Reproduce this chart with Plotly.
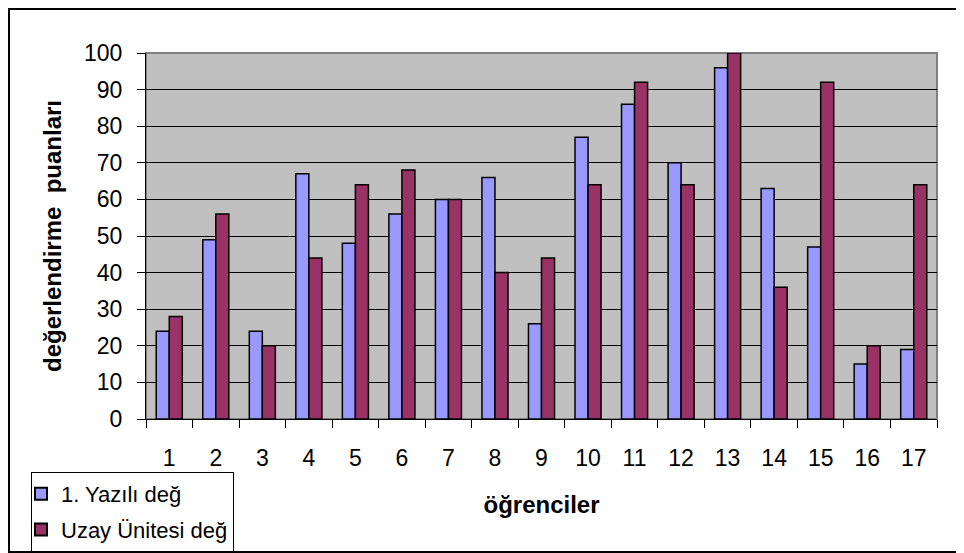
import plotly.graph_objects as go

students = [str(i) for i in range(1, 18)]
yazili = [24, 49, 24, 67, 48, 56, 60, 66, 26, 77, 86, 70, 96, 63, 47, 15, 19]
uzay = [28, 56, 20, 44, 64, 68, 60, 40, 44, 64, 92, 64, 100, 36, 92, 20, 64]
y_ticks = list(range(0, 101, 10))

# page has an 8px body margin; figure coordinates = page coordinates - 8
OFF = 8
W, H = 964 - OFF, 553 - OFF
L, T = 146 - OFF, 53 - OFF
R = W - (937 - OFF)
B = H - (419 - OFF)
pw, ph = W - L - R, H - T - B

def px(x):
    return (x - OFF - L) / pw

def py(y):
    return (H - B - (y - OFF)) / ph

font = "Liberation Sans, Arial, sans-serif"

fig = go.Figure()
fig.add_trace(go.Bar(x=students, y=yazili, name="1. Yazılı değ", legendgroup="a",
                     marker=dict(color="#9999FF", line=dict(color="black", width=1.5))))
fig.add_trace(go.Bar(x=students, y=uzay, name="Uzay Ünitesi değ", legendgroup="b",
                     marker=dict(color="#993366", line=dict(color="black", width=1.5))))

fig.update_layout(
    width=W, height=H,
    margin=dict(l=L, r=R, t=T, b=B, autoexpand=False),
    paper_bgcolor="white", plot_bgcolor="#C0C0C0",
    barmode="group", bargap=0.44, bargroupgap=0,
    font=dict(family=font, color="black"),
    showlegend=True,
    legend=dict(x=px(31), y=py(472), xanchor="left", yanchor="top",
                bordercolor="black", borderwidth=1, bgcolor="white",
                font=dict(size=22, family=font), tracegroupgap=4,
                itemsizing="constant", itemwidth=30, indentation=-11),
    xaxis=dict(type="category", tickson="boundaries", ticks="outside", ticklen=8,
               tickcolor="black", tickwidth=1, showline=True, linecolor="black",
               linewidth=1, showgrid=False, tickfont=dict(size=23),
               ticklabelstandoff=18,
               title=dict(text="<b>öğrenciler</b>", font=dict(size=24), standoff=26)),
    yaxis=dict(range=[0, 100], tickvals=y_ticks, ticks="outside", ticklen=8,
               tickcolor="black", showline=True, linecolor="black", linewidth=1,
               showgrid=True, gridcolor="black", gridwidth=1, zeroline=False,
               tickfont=dict(size=23), ticklabelstandoff=10,
               title=dict(text="<b>değerlendirme  puanları</b>", font=dict(size=24), standoff=15)),
    shapes=[
        dict(type="rect", xref="paper", yref="paper", x0=0, x1=1, y0=0, y1=1,
             line=dict(color="#808080", width=2), layer="below"),
        dict(type="rect", xref="paper", yref="paper",
             x0=px(9), x1=px(975), y0=py(552), y1=py(9),
             line=dict(color="black", width=2), fillcolor="rgba(0,0,0,0)", layer="above"),
    ],
)

fig.write_html("out.html")
